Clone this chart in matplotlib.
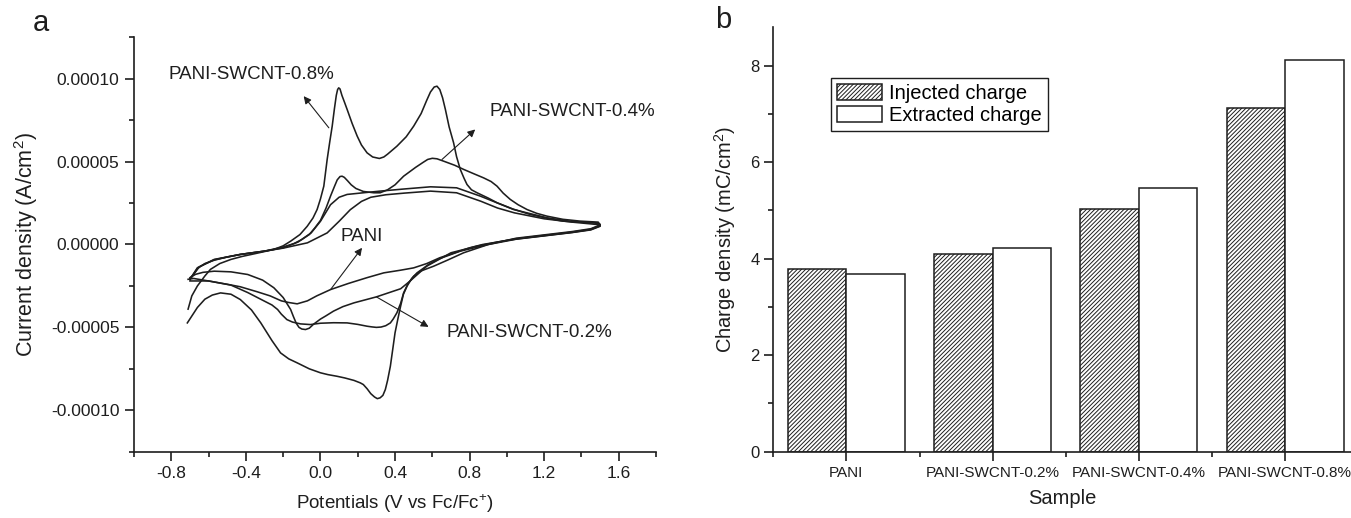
import matplotlib
matplotlib.use('Agg')
import matplotlib.pyplot as plt
import numpy as np
from matplotlib.ticker import MultipleLocator, FormatStrFormatter, FixedLocator

plt.rcParams['font.family'] = ['Liberation Sans', 'DejaVu Sans']
plt.rcParams['mathtext.fontset'] = 'custom'
plt.rcParams['mathtext.rm'] = 'Liberation Sans'
plt.rcParams['mathtext.it'] = 'Liberation Sans:italic'
plt.rcParams['hatch.linewidth'] = 0.7

# ---------------- Panel a: cyclic voltammograms (current in 1e-5 A/cm2) ----------------
pani_v = [-0.70, -0.65, -0.57, -0.43, -0.30, -0.20, -0.07, 0.036, 0.10, 0.16, 0.22, 0.27, 0.35, 0.45,
          0.59, 0.73, 0.86, 0.95, 1.04, 1.20, 1.35, 1.49,
          1.50, 1.45, 1.35, 1.2, 1.05, 0.95, 0.87, 0.80, 0.72, 0.64, 0.57, 0.50, 0.43, 0.34, 0.25, 0.15,
          0.054, -0.02, -0.07, -0.125, -0.17, -0.21, -0.27, -0.34, -0.43, -0.50, -0.60, -0.68, -0.71]
pani_i = [-2.1, -1.35, -0.9, -0.6, -0.4, -0.22, 0.1, 0.7, 1.4, 2.1, 2.6, 2.85, 3.0, 3.1,
          3.22, 3.12, 2.61, 2.2, 1.91, 1.55, 1.35, 1.2,
          1.15, 0.92, 0.75, 0.55, 0.35, 0.15, 0.0, -0.2, -0.5, -0.8, -1.15, -1.41, -1.55, -1.71, -2.0, -2.35,
          -2.72, -3.1, -3.4, -3.58, -3.5, -3.4, -3.1, -2.85, -2.55, -2.4, -2.2, -2.05, -2.1]

swcnt02_v = [-0.70, -0.66, -0.57, -0.43, -0.30, -0.20, -0.12, -0.05, 0.0, 0.054, 0.10, 0.143, 0.23, 0.32,
             0.45, 0.59, 0.73, 0.857, 0.95, 1.036, 1.215, 1.35, 1.49,
             1.50, 1.45, 1.35, 1.2, 1.05, 0.95, 0.84, 0.70, 0.57, 0.48, 0.43, 0.30, 0.18, 0.12, 0.07, 0.03,
             0.0, -0.036, -0.06, -0.08, -0.10, -0.115, -0.13, -0.145, -0.16, -0.20, -0.25, -0.31, -0.39,
             -0.48, -0.57, -0.63, -0.67, -0.70]
swcnt02_i = [-2.1, -1.4, -0.92, -0.6, -0.4, -0.2, 0.15, 0.7, 1.4, 2.4, 2.85, 3.02, 3.12, 3.22,
             3.35, 3.48, 3.42, 2.92, 2.5, 2.11, 1.61, 1.38, 1.3,
             1.12, 0.9, 0.73, 0.53, 0.33, 0.15, -0.1, -0.5, -1.31, -2.21, -2.67, -3.16, -3.52, -3.75, -4.02, -4.3,
             -4.5, -4.8, -5.05, -5.13, -5.1, -5.0, -4.75, -4.35, -3.92, -3.2, -2.61, -2.15, -1.81,
             -1.65, -1.61, -1.68, -1.8, -2.0]

swcnt04_v = [-0.70, -0.66, -0.62, -0.57, -0.50, -0.43, -0.30, -0.20, -0.143, -0.10, -0.06, -0.03, 0.0, 0.03,
             0.054, 0.075, 0.09, 0.105, 0.116, 0.128, 0.145, 0.165, 0.19, 0.23, 0.286, 0.32, 0.36, 0.40,
             0.446, 0.51, 0.55, 0.575, 0.60, 0.625, 0.66, 0.72, 0.768, 0.82, 0.875, 0.915, 0.947, 0.98,
             1.018, 1.06, 1.108, 1.16, 1.215, 1.30, 1.393, 1.49,
             1.50, 1.45, 1.35, 1.2, 1.05, 0.9, 0.768, 0.68, 0.607, 0.536, 0.50, 0.47, 0.446, 0.43, 0.41,
             0.39, 0.375, 0.35, 0.325, 0.30, 0.275, 0.25, 0.20, 0.143, 0.07, 0.0, -0.054, -0.107, -0.15,
             -0.18, -0.21, -0.23, -0.26, -0.30, -0.39, -0.48, -0.60, -0.70]
swcnt04_i = [-2.1, -1.45, -1.15, -0.95, -0.75, -0.6, -0.4, -0.15, 0.05, 0.3, 0.6, 1.0, 1.45, 2.2,
             2.92, 3.5, 3.9, 4.1, 4.12, 4.05, 3.85, 3.6, 3.38, 3.2, 3.12, 3.12, 3.3, 3.6,
             4.12, 4.65, 4.95, 5.13, 5.2, 5.17, 5.03, 4.78, 4.53, 4.28, 4.02, 3.8, 3.52, 3.1,
             2.72, 2.4, 2.11, 1.88, 1.71, 1.52, 1.41, 1.35,
             1.18, 0.95, 0.78, 0.58, 0.38, 0.0, -0.5, -0.95, -1.31, -1.61, -1.91, -2.35, -2.92, -3.55, -4.12,
             -4.5, -4.73, -4.9, -4.98, -5.0, -4.97, -4.93, -4.82, -4.73, -4.72, -4.75, -4.83, -4.79, -4.68,
             -4.53, -4.2, -3.92, -3.65, -3.42, -2.9, -2.45, -2.2, -2.2]

swcnt08_v = [-0.71, -0.69, -0.66, -0.62, -0.59, -0.54, -0.48, -0.42, -0.35, -0.25, -0.20, -0.16, -0.11,
             -0.071, -0.04, -0.018, 0.0, 0.018, 0.036, 0.05, 0.063, 0.075, 0.085, 0.092, 0.098, 0.105,
             0.115, 0.13, 0.143, 0.17, 0.197, 0.22, 0.25, 0.28, 0.316, 0.34, 0.36, 0.41, 0.46, 0.50,
             0.54, 0.57, 0.59, 0.61, 0.625, 0.64, 0.655, 0.67, 0.69, 0.714, 0.73, 0.75, 0.77, 0.786,
             0.81, 0.84, 0.90, 0.947, 1.03, 1.125, 1.21, 1.30, 1.40, 1.47, 1.50,
             1.50, 1.45, 1.35, 1.2, 1.05, 0.9, 0.75, 0.64, 0.58, 0.55, 0.518, 0.49, 0.465, 0.445, 0.43,
             0.415, 0.40, 0.388, 0.375, 0.36, 0.348, 0.335, 0.32, 0.305, 0.29, 0.27, 0.25, 0.23, 0.214,
             0.18, 0.13, 0.089, 0.04, 0.0, -0.06, -0.125, -0.17, -0.214, -0.26, -0.32, -0.37, -0.43,
             -0.48, -0.536, -0.58, -0.62, -0.66, -0.714]
swcnt08_i = [-3.9, -3.1, -2.5, -1.9, -1.5, -1.15, -0.9, -0.72, -0.55, -0.3, -0.08, 0.2, 0.6,
             1.1, 1.6, 2.11, 2.75, 3.52, 5.13, 6.2, 7.14, 8.2, 9.0, 9.35, 9.45, 9.38,
             9.0, 8.55, 8.15, 7.3, 6.54, 6.0, 5.53, 5.28, 5.19, 5.28, 5.45, 5.93, 6.5, 7.14,
             7.9, 8.7, 9.2, 9.5, 9.55, 9.35, 8.85, 8.15, 7.1, 6.14, 5.3, 4.53, 4.0, 3.62,
             3.3, 3.12, 2.8, 2.52, 2.15, 1.81, 1.6, 1.41, 1.34, 1.3, 1.22,
             1.1, 0.88, 0.72, 0.52, 0.32, 0.0, -0.4, -0.85, -1.2, -1.45, -1.71, -2.05, -2.5, -3.0, -3.72,
             -4.5, -5.33, -6.3, -7.34, -8.2, -8.75, -9.1, -9.25, -9.3, -9.2, -9.0, -8.7, -8.45, -8.35,
             -8.2, -8.05, -7.95, -7.85, -7.74, -7.5, -7.14, -6.9, -6.54, -5.8, -4.73, -3.95, -3.32,
             -3.0, -2.92, -3.05, -3.3, -3.8, -4.73]

curve_labels = ['PANI', 'PANI-SWCNT-0.2%', 'PANI-SWCNT-0.4%', 'PANI-SWCNT-0.8%']

# ---------------- Panel b: charge densities (mC/cm2) ----------------
samples = ['PANI', 'PANI-SWCNT-0.2%', 'PANI-SWCNT-0.4%', 'PANI-SWCNT-0.8%']
injected = [3.78, 4.09, 5.02, 7.13]
extracted = [3.68, 4.21, 5.46, 8.12]

INK = '#1e1e1e'

fig = plt.figure(figsize=(13.51, 5.18), dpi=100)

# ---------- panel a ----------
axa = fig.add_axes([0.0992, 0.128, 0.3864, 0.80])
for v, i in [(pani_v, pani_i), (swcnt02_v, swcnt02_i), (swcnt04_v, swcnt04_i), (swcnt08_v, swcnt08_i)]:
    axa.plot(v, np.array(i) * 1e-5, color=INK, lw=1.15, solid_joinstyle='round')

axa.set_xlim(-1.0, 1.8)
axa.set_ylim(-0.000125, 0.000125)
axa.xaxis.set_major_locator(FixedLocator([-0.8, -0.4, 0.0, 0.4, 0.8, 1.2, 1.6]))
axa.xaxis.set_minor_locator(FixedLocator([-1.0, -0.6, -0.2, 0.2, 0.6, 1.0, 1.4, 1.8]))
axa.xaxis.set_major_formatter(FormatStrFormatter('%.1f'))
axa.yaxis.set_major_locator(MultipleLocator(0.00005))
axa.yaxis.set_minor_locator(MultipleLocator(0.000025))
axa.yaxis.set_major_formatter(FormatStrFormatter('%.5f'))
for s in ['top', 'right']:
    axa.spines[s].set_visible(False)
for s in ['left', 'bottom']:
    axa.spines[s].set_linewidth(1.2)
    axa.spines[s].set_color(INK)
axa.tick_params(which='major', direction='out', length=6.5, width=1.2, labelsize=12.5, colors=INK, pad=4)
axa.tick_params(which='minor', direction='out', length=3.5, width=1.2, colors=INK)
axa.set_xlabel('Potentials (V vs Fc/Fc$^{+}$)', fontsize=13.5, labelpad=8, color=INK)
axa.set_ylabel('Current density (A/cm$^{2}$)', fontsize=15.5, labelpad=8, color=INK)

arrow = dict(arrowstyle='-|>', lw=0.8, color=INK, mutation_scale=11, shrinkA=0, shrinkB=0)
axa.annotate('', xy=(-0.09, 8.95e-5), xytext=(0.045, 7.04e-5), arrowprops=arrow)
axa.annotate('', xy=(0.83, 6.94e-5), xytext=(0.652, 5.13e-5), arrowprops=arrow)
axa.annotate('', xy=(0.223, -0.2e-5), xytext=(0.054, -2.72e-5), arrowprops=arrow)
axa.annotate('', xy=(0.58, -4.97e-5), xytext=(0.30, -3.16e-5), arrowprops=arrow)
axa.text(-0.815, 10.26e-5, curve_labels[3], fontsize=13.5, va='center', ha='left', color=INK)
axa.text(0.905, 8.05e-5, curve_labels[2], fontsize=13.5, va='center', ha='left', color=INK, clip_on=False)
axa.text(0.11, 0.46e-5, curve_labels[0], fontsize=13.5, va='center', ha='left', color=INK)
axa.text(0.675, -5.3e-5, curve_labels[1], fontsize=13.5, va='center', ha='left', color=INK)

fig.text(0.024, 0.955, 'a', fontsize=21, ha='left', va='center', color=INK)

# ---------- panel b ----------
axb = fig.add_axes([0.5724, 0.128, 0.4276, 0.82])
x = np.arange(1, len(samples) + 1)
axb.bar(x - 0.2, injected, width=0.4, facecolor='white', edgecolor=INK, hatch='////////', lw=1.1,
        label='Injected charge')
axb.bar(x + 0.2, extracted, width=0.4, facecolor='white', edgecolor=INK, lw=1.1,
        label='Extracted charge')
axb.set_xlim(0.5, 4.45)
axb.set_ylim(0, 8.8)
axb.set_xticks(x)
axb.set_xticklabels(samples)
axb.xaxis.set_minor_locator(FixedLocator([0.5, 1.5, 2.5, 3.5]))
axb.yaxis.set_major_locator(MultipleLocator(2))
axb.yaxis.set_minor_locator(MultipleLocator(1))
for s in ['top', 'right']:
    axb.spines[s].set_visible(False)
for s in ['left', 'bottom']:
    axb.spines[s].set_linewidth(1.2)
    axb.spines[s].set_color(INK)
axb.tick_params(axis='x', which='major', direction='out', length=6.5, width=1.2, labelsize=11,
                colors=INK, pad=4)
axb.tick_params(axis='y', which='major', direction='out', length=6.5, width=1.2, labelsize=12,
                colors=INK)
axb.tick_params(which='minor', direction='out', length=3.5, width=1.2, colors=INK)
axb.set_xlabel('Sample', fontsize=14.5, labelpad=6, color=INK)
axb.set_ylabel('Charge density (mC/cm$^{2}$)', fontsize=14.5, labelpad=9, color=INK)
leg = axb.legend(loc='upper left', bbox_to_anchor=(0.0999, 0.88), borderaxespad=0, fancybox=False,
                 edgecolor=INK, framealpha=1, fontsize=14.5, handlelength=2.25, handleheight=0.85,
                 labelspacing=0.15, borderpad=0.3, handletextpad=0.35)
leg.get_frame().set_linewidth(1.0)

fig.text(0.529, 0.962, 'b', fontsize=21, ha='left', va='center', color=INK)

fig.savefig('out.png', dpi=100, facecolor='white')
